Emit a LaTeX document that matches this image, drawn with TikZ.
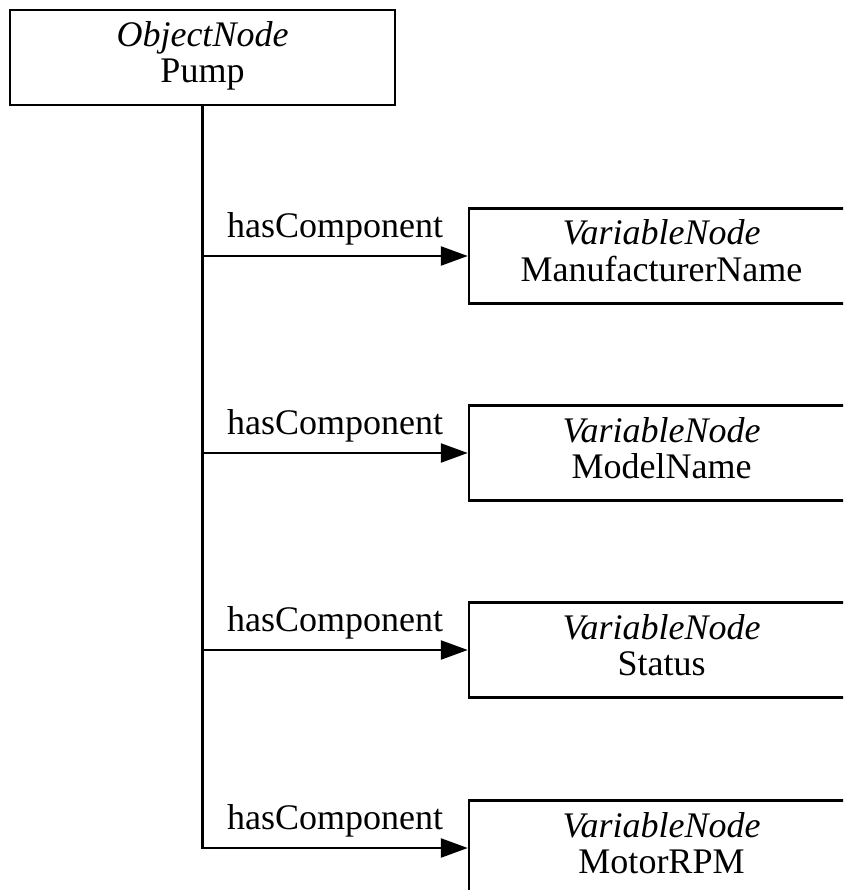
\documentclass[tikz,border=0pt]{standalone}
\usepackage{fontspec}
\setmainfont{Liberation Serif}
\usetikzlibrary{arrows.meta}

\begin{document}
\begin{tikzpicture}[x=1pt, y=-1pt,
    box/.style={draw, line width=2.5pt, minimum width=385pt, minimum height=95pt, align=center, inner sep=0pt, font=\fontsize{36}{36}\selectfont},
    comp/.style={line width=2.5pt, -{Triangle[length=27pt,width=19pt]}},
    lbl/.style={pos=0.75, above=10pt, inner sep=0pt, font=\fontsize{36}{36}\selectfont}]
    % Frame
    \useasboundingbox (0,0) rectangle (843,890);
    \clip (0,0) rectangle (843,890);

    % Object node
    \node[box] (pump) at (202.5,57.5) {\strut\textit{ObjectNode}\\\strut Pump};

    % Variable nodes
    \node[box] (mfr) at (661.5,256) {\strut\textit{VariableNode}\\\strut ManufacturerName};
    \node[box] (model) at (661.5,453) {\strut\textit{VariableNode}\\\strut ModelName};
    \node[box] (status) at (661.5,650) {\strut\textit{VariableNode}\\\strut Status};
    \node[box] (rpm) at (661.5,848) {\strut\textit{VariableNode}\\\strut MotorRPM};

    % Components
    \draw[comp] (pump) |- node[lbl] {hasComponent} (mfr);
    \draw[comp] (pump) |- node[lbl] {hasComponent} (model);
    \draw[comp] (pump) |- node[lbl] {hasComponent} (status);
    \draw[comp] (pump) |- node[lbl] {hasComponent} (rpm);
\end{tikzpicture}
\end{document}
